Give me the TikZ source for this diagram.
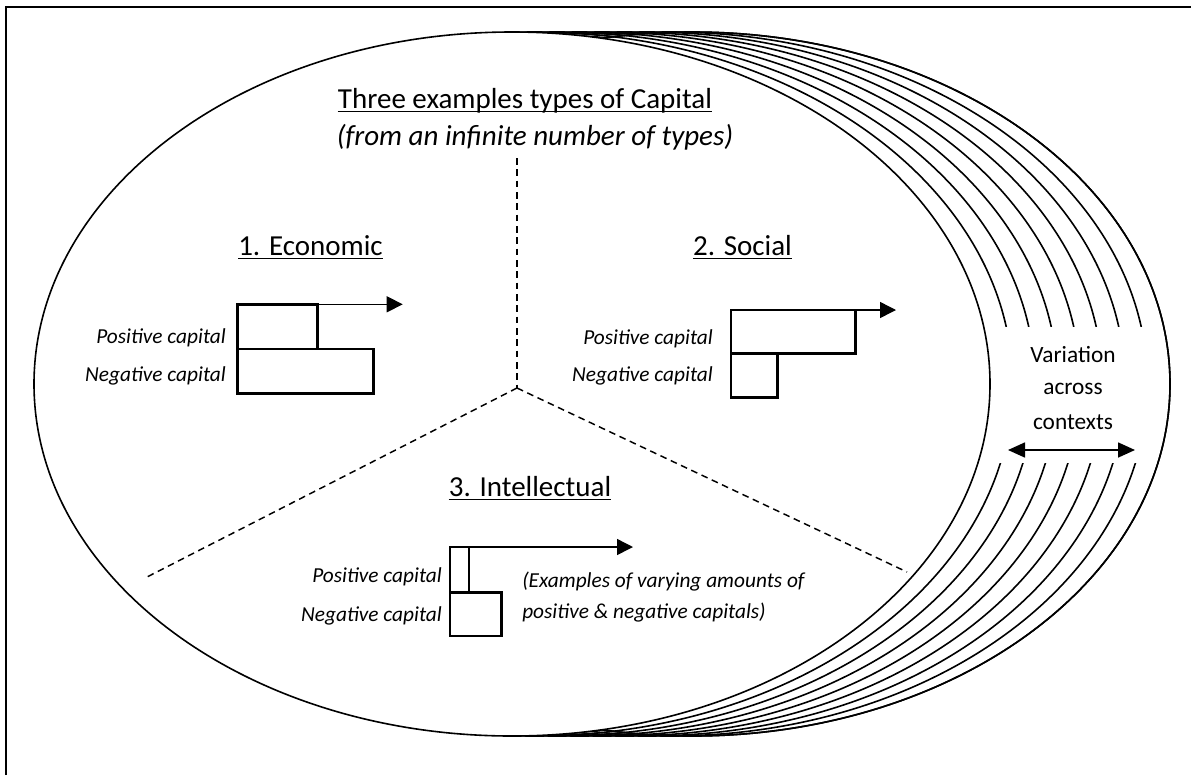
\documentclass[tikz,border=0pt]{standalone}
\usepackage{fontspec}
\setmainfont{Carlito}
\usetikzlibrary{arrows.meta}
\begin{document}
\begin{tikzpicture}[x=0.75pt,y=-0.75pt,
  ell/.style={line width=1.2pt},
  bar/.style={line width=2pt, line join=miter},
  barrow/.style={line width=1.1pt, -{Triangle[length=12pt,width=12pt]}},
  divider/.style={line width=1.1pt, dash pattern=on 5pt off 3.5pt},
  head/.style={font=\fontsize{21.75}{26}\selectfont, inner sep=0pt, anchor=base},
  sub/.style={font=\fontsize{21.75}{26}\selectfont\itshape, inner sep=0pt, anchor=base},
  lab/.style={font=\fontsize{16}{19}\selectfont\itshape, inner sep=0pt, anchor=base east},
  note/.style={font=\fontsize{16}{19}\selectfont\itshape, inner sep=0pt, anchor=base west},
  var/.style={font=\fontsize{17.5}{21}\selectfont, inner sep=0pt, anchor=base},
  uline/.style={line width=1.3pt},
  dblarrow/.style={line width=1.25pt, {Triangle[length=12.75pt,width=11.25pt]}-{Triangle[length=12.75pt,width=11.25pt]}}
]
\useasboundingbox (0,0) rectangle (1191,775);
\fill[white] (0,0) rectangle (1191,775);
% frame
\draw[line width=1.5pt] (6,775) -- (6,7) -- (1191,7);

% stacked context ellipses
\foreach \k in {8,7,...,1} {
  \draw[ell] ({512+22.5*\k},384) ellipse [x radius=478, y radius=352];
}
% mask behind the "Variation across contexts" label
\fill[white] (995,327) rectangle (1152,463);
% outermost and main ellipses
\draw[ell] (692,384) ellipse [x radius=478, y radius=352];
\draw[ell, fill=white] (512,384) ellipse [x radius=478, y radius=352];

% title
\node[head] (title) at (525,108) {Three examples types of Capital};
\draw[uline] ([yshift=-2.6pt]title.base west) -- ([yshift=-2.6pt]title.base east);
\node[sub] (subtitle) at (535,145) {(from an infinite number of types)};

% dividers
\coordinate (hub) at (517,388);
\coordinate (dtop) at (517,158);
\coordinate (dleft) at (145,578);
\coordinate (dright) at (907,572);
\draw[divider] (dtop) -- (hub);
\draw[divider] (hub) -- (dleft);
\draw[divider] (hub) -- (dright);

% 1. Economic
\node[head] (econ) at (310.5,255) {1. Economic};
\draw[uline] ([yshift=-2.6pt]econ.base west) -- ([yshift=-2.6pt]econ.base east);
\draw[bar] (237.7,304.3) rectangle (317.7,349);
\draw[bar] (237.7,349) rectangle (373.3,393.3);
\coordinate (econstart) at (237.7,304.3);
\coordinate (econtip) at (402.7,304.3);
\draw[barrow] (econstart) -- (econtip);
\node[lab] (econpos) at (226,343) {Positive capital};
\node[lab] (econneg) at (226,381) {Negative capital};

% 2. Social
\node[head] (soc) at (742.5,255) {2. Social};
\draw[uline] ([yshift=-2.6pt]soc.base west) -- ([yshift=-2.6pt]soc.base east);
\draw[bar] (731,310) rectangle (855.7,353.3);
\draw[bar] (731,353.3) rectangle (777.7,397.3);
\coordinate (socstart) at (731,310);
\coordinate (soctip) at (896,310);
\draw[barrow] (socstart) -- (soctip);
\node[lab] (socpos) at (713,344) {Positive capital};
\node[lab] (socneg) at (713,381) {Negative capital};

% 3. Intellectual
\node[head] (intel) at (530,496) {3. Intellectual};
\draw[uline] ([yshift=-2.6pt]intel.base west) -- ([yshift=-2.6pt]intel.base east);
\draw[bar] (450,547) rectangle (469,592.3);
\draw[bar] (450,592.3) rectangle (501.7,636);
\coordinate (intstart) at (450,547);
\coordinate (inttip) at (633,547);
\draw[barrow] (intstart) -- (inttip);
\node[lab] (intpos) at (442,582) {Positive capital};
\node[lab] (intneg) at (442,621) {Negative capital};
\node[note] (ex1) at (522,587) {(Examples of varying amounts of};
\node[note] (ex2) at (522,618) {positive \& negative capitals)};

% variation label
\node[var] (v1) at (1073,362) {Variation};
\node[var] (v2) at (1073,394) {across};
\node[var] (v3) at (1073,429) {contexts};
\coordinate (varl) at (1008,450);
\coordinate (varr) at (1135,450);
\draw[dblarrow] (varl) -- (varr);
\end{tikzpicture}
\end{document}
